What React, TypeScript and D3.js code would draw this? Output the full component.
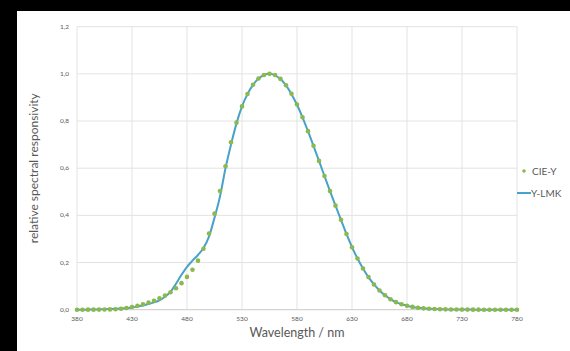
import React, { useRef, useEffect } from 'react';
import * as d3 from 'd3';

// wavelengths at 5 nm steps, 380..780
const wavelengths = d3.range(380, 781, 5);

// CIE photopic luminosity (dots)
const cieY = [
  0.00004, 0.00006, 0.00012, 0.00022, 0.0004, 0.00064, 0.0012, 0.0022, 0.004, 0.0073,
  0.0116, 0.0168, 0.023, 0.0298, 0.038, 0.048, 0.06, 0.0739, 0.091, 0.1126,
  0.139, 0.1693, 0.208, 0.2586, 0.323, 0.4073, 0.503, 0.6082, 0.71, 0.7932,
  0.862, 0.9149, 0.954, 0.9803, 0.995, 1.0, 0.995, 0.9786, 0.952, 0.9154,
  0.87, 0.8163, 0.757, 0.6949, 0.631, 0.5668, 0.503, 0.4412, 0.381, 0.321,
  0.265, 0.217, 0.175, 0.1382, 0.107, 0.0816, 0.061, 0.0446, 0.032, 0.0232,
  0.017, 0.0119, 0.0082, 0.0057, 0.0041, 0.0029, 0.0021, 0.0015, 0.001, 0.0007,
  0.0005, 0.0004, 0.0003, 0.0002, 0.0001, 0.0001, 0.0001, 0.0, 0.0, 0.0, 0.0,
];

// measured LMK responsivity (line)
const yLmk = [
  0.0, 0.0, 0.0005, 0.001, 0.0015, 0.002, 0.003, 0.004, 0.005, 0.007,
  0.009, 0.013, 0.018, 0.024, 0.031, 0.04, 0.055, 0.076, 0.11, 0.148,
  0.182, 0.208, 0.232, 0.262, 0.31, 0.39, 0.48, 0.6, 0.7, 0.79,
  0.862, 0.914, 0.953, 0.98, 0.995, 1.0, 0.994, 0.978, 0.951, 0.914,
  0.869, 0.816, 0.757, 0.695, 0.631, 0.567, 0.503, 0.441, 0.381, 0.321,
  0.265, 0.217, 0.175, 0.138, 0.107, 0.0816, 0.061, 0.0446, 0.032, 0.0232,
  0.017, 0.0119, 0.0082, 0.0057, 0.0041, 0.0029, 0.0021, 0.0015, 0.001, 0.0007,
  0.0005, 0.0004, 0.0003, 0.0002, 0.0001, 0.0001, 0.0001, 0.0, 0.0, 0.0, 0.0,
];

const xTicks = [380, 430, 480, 530, 580, 630, 680, 730, 780];
const yTicks = [0, 0.2, 0.4, 0.6, 0.8, 1.0, 1.2];

const dotColor = '#8cb84c';
const lineColor = '#48a2c9';
const textColor = '#595959';
const font = 'Lato, "Open Sans", sans-serif';

const App: React.FC = () => {
  const svgRef = useRef<SVGSVGElement>(null);
  const width = 570;
  const height = 351;
  const plot = { left: 77, right: 517, top: 26.7, bottom: 309.7 };

  useEffect(() => {
    if (!svgRef.current) return;
    const svg = d3.select(svgRef.current);
    svg.selectAll('*').remove();

    svg.append('rect').attr('width', width).attr('height', height).attr('fill', '#000');
    svg.append('rect').attr('x', 17).attr('y', 11).attr('width', width - 17).attr('height', height - 11).attr('fill', '#fff');

    const x = d3.scaleLinear().domain([380, 780]).range([plot.left, plot.right]);
    const y = d3.scaleLinear().domain([0, 1.2]).range([plot.bottom, plot.top]);

    // grid
    svg.append('g').selectAll('line.h')
      .data(yTicks.filter(t => t > 0))
      .enter().append('line')
      .attr('x1', plot.left).attr('x2', plot.right)
      .attr('y1', d => y(d)).attr('y2', d => y(d))
      .attr('stroke', '#e3e3e3').attr('stroke-width', 1);
    svg.append('g').selectAll('line.v')
      .data(xTicks)
      .enter().append('line')
      .attr('x1', d => x(d)).attr('x2', d => x(d))
      .attr('y1', plot.top).attr('y2', plot.bottom)
      .attr('stroke', '#e3e3e3').attr('stroke-width', 1);
    svg.append('line')
      .attr('x1', plot.left).attr('x2', plot.right)
      .attr('y1', y(0)).attr('y2', y(0))
      .attr('stroke', '#d4d4d4').attr('stroke-width', 1.2);

    // tick labels
    svg.append('g').selectAll('text')
      .data(yTicks).enter().append('text')
      .attr('x', 69).attr('y', d => y(d) + 2)
      .attr('text-anchor', 'end')
      .attr('font-family', font).attr('font-size', 6.5).attr('fill', textColor)
      .text(d => d.toFixed(1).replace('.', ','));
    svg.append('g').selectAll('text')
      .data(xTicks).enter().append('text')
      .attr('x', d => x(d)).attr('y', 321)
      .attr('text-anchor', 'middle')
      .attr('font-family', font).attr('font-size', 6.5).attr('fill', textColor)
      .text(d => String(d));

    // axis titles
    svg.append('text')
      .attr('x', 297).attr('y', 337)
      .attr('text-anchor', 'middle')
      .attr('font-family', font).attr('font-size', 12.5).attr('fill', textColor)
      .text('Wavelength / nm');
    svg.append('text')
      .attr('transform', `translate(38,${(plot.top + plot.bottom) / 2}) rotate(-90)`)
      .attr('text-anchor', 'middle')
      .attr('font-family', font).attr('font-size', 12).attr('fill', textColor)
      .text('relative spectral responsivity');

    // line
    const line = d3.line<number>()
      .x((_, i) => x(wavelengths[i]))
      .y(d => y(d))
      .curve(d3.curveMonotoneX);
    svg.append('path')
      .datum(yLmk)
      .attr('d', line)
      .attr('fill', 'none')
      .attr('stroke', lineColor)
      .attr('stroke-width', 2);

    // dots
    svg.append('g').selectAll('circle')
      .data(cieY).enter().append('circle')
      .attr('cx', (_, i) => x(wavelengths[i]))
      .attr('cy', d => y(d))
      .attr('r', 2.3)
      .attr('fill', dotColor);

    // legend
    const lg = svg.append('g').attr('font-family', font).attr('font-size', 10).attr('fill', textColor);
    lg.append('circle').attr('cx', 524).attr('cy', 171).attr('r', 1.8).attr('fill', dotColor);
    lg.append('text').attr('x', 532).attr('y', 174.5).text('CIE-Y');
    lg.append('line').attr('x1', 517).attr('x2', 531).attr('y1', 193).attr('y2', 193)
      .attr('stroke', lineColor).attr('stroke-width', 2);
    lg.append('text').attr('x', 531).attr('y', 196.5).text('Y-LMK');
  }, []);

  return (
    <div style={{ position: 'fixed', left: 0, top: 0, width, height, overflow: 'hidden' }}>
      <svg ref={svgRef} width={width} height={height} style={{ display: 'block' }} />
    </div>
  );
};

export default App;
